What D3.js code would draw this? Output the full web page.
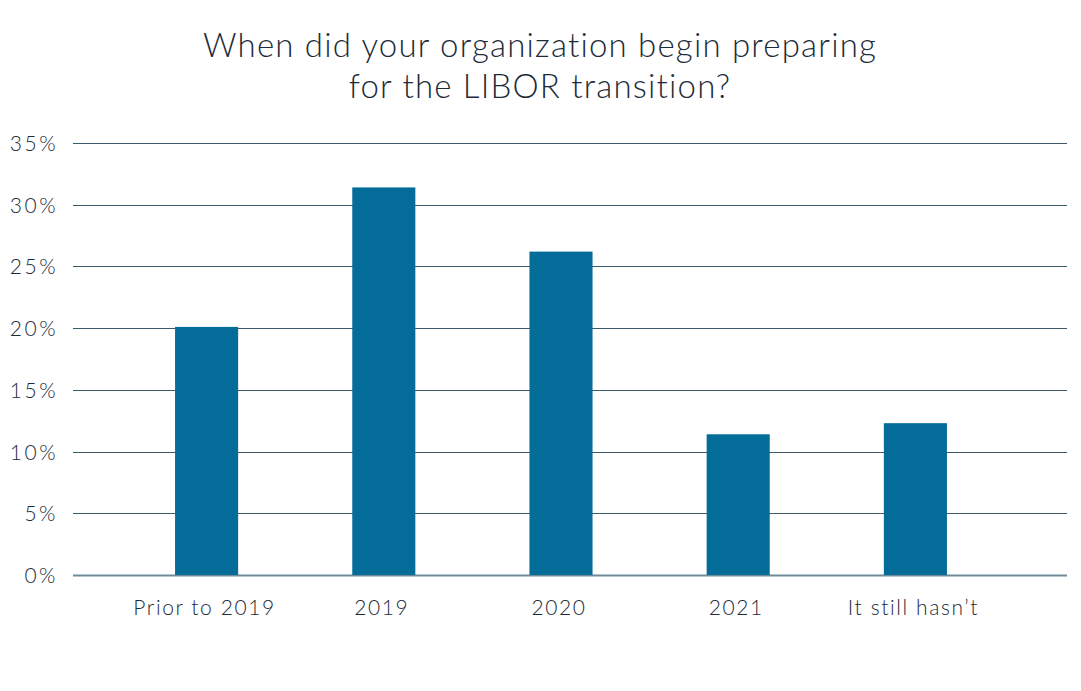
<!DOCTYPE html>
<html>
<head>
<meta charset="utf-8">
<script src="https://cdn.jsdelivr.net/npm/d3@7"></script>
<style>
  body { margin: 0; background: #fff; }
  svg { display: block; }
  text { font-family: Lato, "Open Sans", sans-serif; fill: #1c2b39; font-variant-ligatures: none; }
  .title { font-size: 33px; font-weight: 300; letter-spacing: 1.2px; }
  .axis text { font-size: 21px; font-weight: 300; }
  .yaxis text { letter-spacing: 2.5px; }
  .xaxis text { letter-spacing: 1.6px; }
</style>
</head>
<body>
<svg id="chart" width="1081" height="691"></svg>
<script>
const categories = ["Prior to 2019", "2019", "2020", "2021", "It still hasn\u2019t"];
const values = [0.201, 0.314, 0.262, 0.114, 0.123];
const yTicks = [0, 0.05, 0.10, 0.15, 0.20, 0.25, 0.30, 0.35];
const titleLines = ["When did your organization begin preparing", "for the LIBOR transition?"];

let svg = d3.select("#chart");
let plotLeft = 73, plotRight = 1067, plotTop = 143, plotBottom = 575;

let x = d3.scaleBand()
  .domain(categories)
  .range([118, 1004])
  .paddingInner(0.644)
  .paddingOuter(0.322);
let y = d3.scaleLinear().domain([0, 0.35]).range([plotBottom, plotTop]);

// title
svg.append("g").selectAll("text")
  .data(titleLines)
  .enter().append("text")
  .attr("class", "title")
  .attr("x", 540)
  .attr("y", (d, i) => 57 + i * 41)
  .attr("text-anchor", "middle")
  .text(d => d);

// gridlines
svg.append("g").selectAll("line")
  .data(yTicks)
  .enter().append("line")
  .attr("x1", plotLeft)
  .attr("x2", plotRight)
  .attr("y1", d => Math.round(y(d)) + 0.5)
  .attr("y2", d => Math.round(y(d)) + 0.5)
  .attr("stroke", d => d === 0 ? "#6f8a98" : "#3a5a6c")
  .attr("stroke-width", d => d === 0 ? 2 : 1.2);

// bars
svg.append("g").selectAll("rect")
  .data(categories)
  .enter().append("rect")
  .attr("x", d => x(d))
  .attr("width", x.bandwidth())
  .attr("y", (d, i) => y(values[i]))
  .attr("height", (d, i) => y(0) - y(values[i]))
  .attr("fill", "#036c99");

// y axis
let yAxis = svg.append("g")
  .attr("class", "axis yaxis")
  .attr("transform", "translate(58,0)")
  .call(d3.axisLeft(y).tickValues(yTicks).tickSize(0).tickPadding(0).tickFormat(d3.format(".0%")));
yAxis.select(".domain").remove();
yAxis.selectAll("text").attr("dy", "0.36em");

// x axis
let xAxis = svg.append("g")
  .attr("class", "axis xaxis")
  .attr("transform", "translate(0," + plotBottom + ")")
  .call(d3.axisBottom(x).tickSize(0).tickPadding(0));
xAxis.select(".domain").remove();
xAxis.selectAll("text").attr("dy", "40px").attr("dx", "-2px");
</script>
</body>
</html>
